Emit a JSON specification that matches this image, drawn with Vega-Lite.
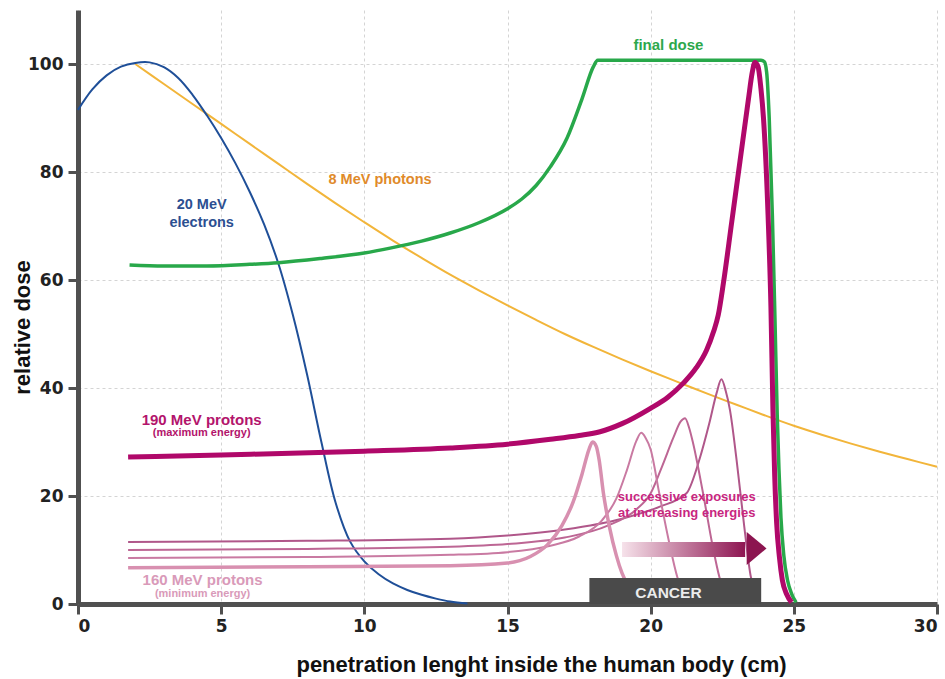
{
  "$schema": "https://vega.github.io/schema/vega-lite/v6.json",
  "width": 859,
  "height": 594,
  "autosize": {"type": "none"},
  "padding": {"left": 78, "top": 10, "right": 8, "bottom": 75},
  "background": "white",
  "config": {
    "view": {"stroke": null},
    "axis": {
      "domainColor": "#505050",
      "domainWidth": 5,
      "tickColor": "#505050",
      "tickWidth": 3,
      "tickSize": 10,
      "gridColor": "#d4d4d4",
      "gridDash": [3, 3],
      "gridWidth": 1,
      "labelFont": "DejaVu Sans",
      "labelFontWeight": "bold",
      "labelFontSize": 17,
      "labelColor": "#222222",
      "titleFont": "Liberation Sans",
      "titleFontWeight": "bold",
      "titleColor": "#111111"
    }
  },
  "datasets": {
    "electrons": [
      {"x": 0, "y": 91.5}, {"x": 0.5, "y": 95.3}, {"x": 1, "y": 97.9}, {"x": 1.5, "y": 99.5},
      {"x": 2, "y": 100.2}, {"x": 2.5, "y": 100.3}, {"x": 3, "y": 99.4}, {"x": 3.5, "y": 97.4},
      {"x": 4, "y": 94.3}, {"x": 4.5, "y": 90.5}, {"x": 5, "y": 86.3}, {"x": 5.5, "y": 81.6},
      {"x": 6, "y": 76.3}, {"x": 6.5, "y": 70.3}, {"x": 7, "y": 63}, {"x": 7.5, "y": 53.6},
      {"x": 8, "y": 42.5}, {"x": 8.5, "y": 30}, {"x": 9, "y": 18.7}, {"x": 9.5, "y": 11.6},
      {"x": 10, "y": 7.9}, {"x": 10.5, "y": 5.5}, {"x": 11, "y": 3.8}, {"x": 11.5, "y": 2.6},
      {"x": 12, "y": 1.7}, {"x": 12.5, "y": 1}, {"x": 13, "y": 0.45}, {"x": 13.6, "y": 0.1}
    ],
    "photons": [
      {"x": 2, "y": 100}, {"x": 3, "y": 96.3}, {"x": 4, "y": 92.6}, {"x": 5, "y": 88.9},
      {"x": 6, "y": 85.2}, {"x": 7, "y": 81.5}, {"x": 8, "y": 77.8}, {"x": 9, "y": 74.2},
      {"x": 10, "y": 70.7}, {"x": 11, "y": 67.3}, {"x": 12, "y": 64.1}, {"x": 13, "y": 61.0},
      {"x": 14, "y": 58.1}, {"x": 15, "y": 55.3}, {"x": 16, "y": 52.6}, {"x": 17, "y": 50.0},
      {"x": 18, "y": 47.6}, {"x": 19, "y": 45.3}, {"x": 20, "y": 43.1}, {"x": 21, "y": 41.0},
      {"x": 22, "y": 38.9}, {"x": 23, "y": 36.9}, {"x": 24, "y": 34.9}, {"x": 25, "y": 33.0},
      {"x": 26, "y": 31.3}, {"x": 27, "y": 29.7}, {"x": 28, "y": 28.2}, {"x": 29, "y": 26.8},
      {"x": 30, "y": 25.4}
    ],
    "p1": [
      {"x": 1.75, "y": 6.7}, {"x": 8, "y": 6.9}, {"x": 13, "y": 7.1}, {"x": 15, "y": 7.6},
      {"x": 15.8, "y": 8.8}, {"x": 16.4, "y": 11}, {"x": 16.9, "y": 14.5}, {"x": 17.3, "y": 19},
      {"x": 17.6, "y": 24}, {"x": 17.85, "y": 28.7}, {"x": 17.97, "y": 30}, {"x": 18.1, "y": 29.2},
      {"x": 18.2, "y": 26.7}, {"x": 18.35, "y": 20.5}, {"x": 18.56, "y": 14.3}, {"x": 18.8, "y": 9},
      {"x": 19.0, "y": 5.7}, {"x": 19.2, "y": 3.5}, {"x": 19.4, "y": 2}
    ],
    "p2": [
      {"x": 1.75, "y": 8.5}, {"x": 8, "y": 8.7}, {"x": 13, "y": 9.1}, {"x": 15, "y": 9.6},
      {"x": 16.5, "y": 10.8}, {"x": 17.5, "y": 12.5}, {"x": 18.3, "y": 15.5}, {"x": 18.8, "y": 19.5},
      {"x": 19.17, "y": 24.8}, {"x": 19.5, "y": 30.2}, {"x": 19.67, "y": 31.7}, {"x": 19.82, "y": 30.8},
      {"x": 20.0, "y": 28.6}, {"x": 20.3, "y": 20.5}, {"x": 20.65, "y": 11.3}, {"x": 20.93, "y": 5},
      {"x": 21.1, "y": 2.5}
    ],
    "p3": [
      {"x": 1.75, "y": 10}, {"x": 8, "y": 10.2}, {"x": 13, "y": 10.6}, {"x": 15, "y": 11.1},
      {"x": 17, "y": 12.3}, {"x": 18.5, "y": 14.5}, {"x": 19.5, "y": 17.5}, {"x": 20.0, "y": 20.5},
      {"x": 20.4, "y": 25.5}, {"x": 20.8, "y": 30.9}, {"x": 21.05, "y": 33.8}, {"x": 21.2, "y": 34.4},
      {"x": 21.35, "y": 32.5}, {"x": 21.48, "y": 29.8}, {"x": 21.83, "y": 20.5}, {"x": 22.17, "y": 10.6},
      {"x": 22.4, "y": 5}, {"x": 22.55, "y": 2.5}
    ],
    "p4": [
      {"x": 1.75, "y": 11.5}, {"x": 8, "y": 11.7}, {"x": 13, "y": 12.1}, {"x": 15, "y": 12.7},
      {"x": 17, "y": 13.8}, {"x": 19, "y": 15.8}, {"x": 20.3, "y": 18}, {"x": 21.25, "y": 20.5},
      {"x": 21.7, "y": 26.7}, {"x": 22.05, "y": 33.5}, {"x": 22.3, "y": 39}, {"x": 22.47, "y": 41.6},
      {"x": 22.62, "y": 39.5}, {"x": 22.77, "y": 35.9}, {"x": 23.0, "y": 26.7}, {"x": 23.27, "y": 14.3},
      {"x": 23.5, "y": 5}, {"x": 23.65, "y": 2.5}
    ],
    "finaldose": [
      {"x": 1.8, "y": 62.8}, {"x": 3, "y": 62.6}, {"x": 4.5, "y": 62.6}, {"x": 6, "y": 62.9},
      {"x": 7, "y": 63.2}, {"x": 8.5, "y": 64}, {"x": 10, "y": 65}, {"x": 10.9, "y": 65.9},
      {"x": 12, "y": 67.2}, {"x": 13, "y": 68.7}, {"x": 14, "y": 70.6}, {"x": 15, "y": 73.2},
      {"x": 15.5, "y": 75}, {"x": 16, "y": 77.5}, {"x": 16.5, "y": 81}, {"x": 17.08, "y": 86.3},
      {"x": 17.6, "y": 93.5}, {"x": 18.0, "y": 99.5}, {"x": 18.15, "y": 100.7}, {"x": 23.85, "y": 100.7},
      {"x": 23.97, "y": 100.4}, {"x": 24.05, "y": 98.5}, {"x": 24.14, "y": 90}, {"x": 24.25, "y": 72},
      {"x": 24.34, "y": 53}, {"x": 24.42, "y": 35}, {"x": 24.48, "y": 25}, {"x": 24.55, "y": 16},
      {"x": 24.65, "y": 9}, {"x": 24.78, "y": 4.4}, {"x": 24.93, "y": 1.8}, {"x": 25.08, "y": 0.3}
    ],
    "p190": [
      {"x": 1.75, "y": 27.2}, {"x": 5, "y": 27.6}, {"x": 10, "y": 28.3}, {"x": 13, "y": 28.9},
      {"x": 15, "y": 29.6}, {"x": 16.5, "y": 30.5}, {"x": 17.5, "y": 31.2}, {"x": 18.23, "y": 31.9},
      {"x": 19, "y": 33.4}, {"x": 19.98, "y": 36.2}, {"x": 20.6, "y": 38.3}, {"x": 21.14, "y": 40.9},
      {"x": 21.6, "y": 43.8}, {"x": 21.95, "y": 47}, {"x": 22.2, "y": 50.5}, {"x": 22.36, "y": 53.5},
      {"x": 22.54, "y": 59.4}, {"x": 22.83, "y": 70.7}, {"x": 23.12, "y": 82}, {"x": 23.41, "y": 93.3},
      {"x": 23.55, "y": 98.5}, {"x": 23.64, "y": 100.3}, {"x": 23.75, "y": 99.5}, {"x": 23.85, "y": 95.5},
      {"x": 23.94, "y": 90}, {"x": 24.1, "y": 72}, {"x": 24.2, "y": 55}, {"x": 24.27, "y": 36},
      {"x": 24.33, "y": 24}, {"x": 24.4, "y": 15}, {"x": 24.5, "y": 8.5}, {"x": 24.6, "y": 4.4},
      {"x": 24.75, "y": 1.8}, {"x": 24.92, "y": 0.3}
    ]
  },
  "encoding": {
    "x": {
      "field": "x", "type": "quantitative",
      "scale": {"domain": [0, 30], "nice": false, "zero": false},
      "axis": {
        "values": [0, 5, 10, 15, 20, 25, 30],
        "title": "penetration lenght inside the human body (cm)",
        "titleFontSize": 22,
        "titleX": 463,
        "titleY": 60,
        "titleAlign": "center",
        "titleBaseline": "middle",
        "labelPadding": 4
      }
    },
    "y": {
      "field": "y", "type": "quantitative",
      "scale": {"domain": [0, 110], "nice": false},
      "axis": {
        "values": [0, 20, 40, 60, 80, 100],
        "title": "relative dose",
        "titleFontSize": 22,
        "titleX": -56,
        "titleY": 317,
        "titleAlign": "center",
        "titleBaseline": "middle",
        "labelPadding": 5
      }
    }
  },
  "layer": [
    {"data": {"name": "photons"}, "mark": {"type": "line", "interpolate": "catmull-rom", "color": "#f2b53a", "strokeWidth": 2}},
    {"data": {"name": "electrons"}, "mark": {"type": "line", "interpolate": "catmull-rom", "color": "#1f4f98", "strokeWidth": 2}},
    {"data": {"name": "p4"}, "mark": {"type": "line", "interpolate": "monotone", "color": "#b0578a", "strokeWidth": 2}},
    {"data": {"name": "p3"}, "mark": {"type": "line", "interpolate": "monotone", "color": "#bd6694", "strokeWidth": 2}},
    {"data": {"name": "p2"}, "mark": {"type": "line", "interpolate": "monotone", "color": "#c97aa2", "strokeWidth": 2}},
    {"data": {"name": "p1"}, "mark": {"type": "line", "interpolate": "monotone", "color": "#d890b0", "strokeWidth": 3.5}},
    {"data": {"name": "finaldose"}, "mark": {"type": "line", "interpolate": "monotone", "color": "#28a84a", "strokeWidth": 3.5}},
    {"data": {"name": "p190"}, "mark": {"type": "line", "interpolate": "monotone", "color": "#b0086a", "strokeWidth": 5}},
    {
      "data": {"values": [{"x": 19.0, "x2": 23.3, "y": 8.7, "y2": 11.5}]},
      "mark": {"type": "rect", "color": {"gradient": "linear", "x1": 0, "y1": 0, "x2": 1, "y2": 0,
        "stops": [{"offset": 0, "color": "#f6e2ea"}, {"offset": 1, "color": "#8e1652"}]}},
      "encoding": {"x2": {"field": "x2"}, "y2": {"field": "y2"}}
    },
    {
      "data": {"values": [{"x": 23.7, "y": 10.3}]},
      "mark": {"type": "point", "shape": "M -0.6 -1 L 0.6 0 L -0.6 1 Z", "size": 1089, "filled": true, "opacity": 1, "color": "#8c1550", "strokeWidth": 0}
    },
    {
      "data": {"values": [{"x": 17.86, "x2": 23.86, "y": 0, "y2": 4.8}]},
      "mark": {"type": "rect", "color": "#4a4a4a"},
      "encoding": {"x2": {"field": "x2"}, "y2": {"field": "y2"}}
    },
    {
      "data": {"values": [{"t": "CANCER", "x": 20.62, "y": 2.1}]},
      "mark": {"type": "text", "font": "Liberation Sans", "fontWeight": "bold", "fontSize": 15.5, "color": "#ececec", "baseline": "middle"},
      "encoding": {"text": {"field": "t"}}
    },
    {
      "data": {"values": [{"t": "final dose", "x": 20.62, "y": 103.5}]},
      "mark": {"type": "text", "font": "Liberation Sans", "fontWeight": "bold", "fontSize": 15, "color": "#2da84c", "baseline": "middle"},
      "encoding": {"text": {"field": "t"}}
    },
    {
      "data": {"values": [{"t": "8 MeV photons", "x": 10.55, "y": 78.5}]},
      "mark": {"type": "text", "font": "Liberation Sans", "fontWeight": "bold", "fontSize": 14.5, "color": "#e08a2a", "baseline": "middle"},
      "encoding": {"text": {"field": "t"}}
    },
    {
      "data": {"values": [{"t": "20 MeV", "x": 4.32, "y": 73.9}, {"t": "electrons", "x": 4.32, "y": 70.6}]},
      "mark": {"type": "text", "font": "Liberation Sans", "fontWeight": "bold", "fontSize": 14.5, "color": "#2c4f91", "baseline": "middle"},
      "encoding": {"text": {"field": "t"}}
    },
    {
      "data": {"values": [{"t": "190 MeV protons", "x": 4.32, "y": 34.1}]},
      "mark": {"type": "text", "font": "Liberation Sans", "fontWeight": "bold", "fontSize": 15, "color": "#b3146c", "baseline": "middle"},
      "encoding": {"text": {"field": "t"}}
    },
    {
      "data": {"values": [{"t": "(maximum energy)", "x": 4.32, "y": 31.6}]},
      "mark": {"type": "text", "font": "Liberation Sans", "fontWeight": "bold", "fontSize": 11, "color": "#b3146c", "baseline": "middle"},
      "encoding": {"text": {"field": "t"}}
    },
    {
      "data": {"values": [{"t": "160 MeV protons", "x": 4.35, "y": 4.4}]},
      "mark": {"type": "text", "font": "Liberation Sans", "fontWeight": "bold", "fontSize": 15, "color": "#d99ab9", "baseline": "middle"},
      "encoding": {"text": {"field": "t"}}
    },
    {
      "data": {"values": [{"t": "(minimum energy)", "x": 4.35, "y": 1.85}]},
      "mark": {"type": "text", "font": "Liberation Sans", "fontWeight": "bold", "fontSize": 11, "color": "#d99ab9", "baseline": "middle"},
      "encoding": {"text": {"field": "t"}}
    },
    {
      "data": {"values": [{"t": "successive exposures", "x": 21.26, "y": 19.8}, {"t": "at increasing energies", "x": 21.26, "y": 16.85}]},
      "mark": {"type": "text", "font": "Liberation Sans", "fontWeight": "bold", "fontSize": 13, "color": "#c8267f", "baseline": "middle"},
      "encoding": {"text": {"field": "t"}}
    }
  ]
}
